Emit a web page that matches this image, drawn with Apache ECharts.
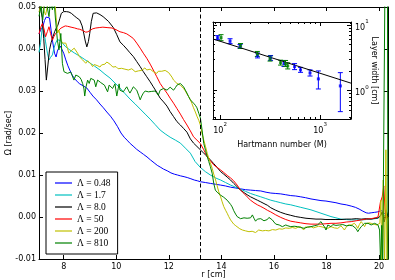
<!DOCTYPE html>
<html><head><meta charset="utf-8">
<script src="https://cdn.jsdelivr.net/npm/echarts@6/dist/echarts.min.js"></script>
<style>html,body{margin:0;padding:0;background:#fff}#c{width:395px;height:280px}</style>
</head><body><div id="c"></div>
<script>
// ---------- data ----------
const xTicks = [8, 10, 12, 14, 16, 18, 20];
const names = ['Λ = 0.48', 'Λ = 1.7', 'Λ = 8.0', 'Λ = 50', 'Λ = 200', 'Λ = 810'];
const colors = ['#0000ff', '#00bfbf', '#000000', '#ff0000', '#bfbf00', '#008000'];
const dashR = 13.2;

const lam048 = [[7.06,0.0436],[7.12,0.0445],[7.2,0.0452],[7.27,0.0468],[7.33,0.0476],[7.4,0.0478],[7.46,0.0474],[7.52,0.0445],[7.58,0.0417],[7.65,0.039],[7.71,0.0381],[7.76,0.0395],[7.81,0.0402],[7.87,0.0407],[7.92,0.0405],[8.0,0.039],[8.08,0.0374],[8.16,0.036],[8.23,0.035],[8.32,0.0338],[8.42,0.0329],[8.52,0.0322],[8.61,0.0317],[8.75,0.0312],[8.88,0.0307],[9.0,0.0297],[9.11,0.0288],[9.25,0.0279],[9.38,0.0269],[9.51,0.026],[9.64,0.025],[9.78,0.024],[9.91,0.0229],[10.05,0.0215],[10.18,0.02],[10.3,0.019],[10.41,0.0183],[10.53,0.0175],[10.64,0.0169],[10.78,0.0161],[10.91,0.0155],[11.04,0.0149],[11.17,0.0143],[11.3,0.0136],[11.44,0.0129],[11.56,0.0123],[11.67,0.0119],[11.8,0.0114],[11.94,0.011],[12.08,0.0105],[12.21,0.0102],[12.33,0.01],[12.44,0.0098],[12.58,0.0096],[12.7,0.0094],[12.84,0.0091],[12.97,0.0088],[13.1,0.0086],[13.2,0.0084],[13.4,0.0082],[13.58,0.008],[13.78,0.0078],[13.97,0.0076],[14.15,0.0074],[14.35,0.0071],[14.55,0.0069],[14.73,0.0067],[14.92,0.0065],[15.11,0.0064],[15.3,0.0063],[15.5,0.0062],[15.7,0.0059],[15.88,0.0057],[16.07,0.0056],[16.26,0.0055],[16.45,0.0053],[16.64,0.0051],[16.83,0.005],[17.02,0.0048],[17.2,0.0046],[17.41,0.0043],[17.6,0.0041],[17.79,0.0039],[17.98,0.0038],[18.17,0.0036],[18.36,0.0034],[18.55,0.0031],[18.75,0.0029],[18.94,0.0026],[19.1,0.0023],[19.24,0.0019],[19.38,0.0014],[19.51,0.001],[19.6,0.0009],[19.7,0.001],[19.82,0.0011],[19.93,0.0012],[20.03,0.0014],[20.12,0.0015],[20.2,0.0007],[20.27,0.0012],[20.33,0.0004]];

const lam17 = [[7.06,0.0392],[7.12,0.0415],[7.19,0.0455],[7.25,0.044],[7.31,0.0417],[7.38,0.039],[7.44,0.0374],[7.5,0.038],[7.57,0.0386],[7.63,0.0402],[7.69,0.0414],[7.76,0.0422],[7.82,0.0425],[7.88,0.042],[7.95,0.0414],[8.08,0.0405],[8.23,0.0398],[8.42,0.039],[8.61,0.0383],[8.8,0.0375],[8.99,0.0367],[9.18,0.0359],[9.38,0.035],[9.57,0.034],[9.76,0.0331],[9.95,0.0319],[10.14,0.0307],[10.33,0.0294],[10.52,0.0281],[10.72,0.0269],[10.91,0.0257],[11.1,0.0245],[11.29,0.0233],[11.48,0.022],[11.67,0.0207],[11.86,0.0198],[12.05,0.019],[12.25,0.0183],[12.44,0.0176],[12.63,0.0164],[12.82,0.0152],[13.0,0.0132],[13.2,0.0118],[13.39,0.0108],[13.58,0.01],[13.78,0.0093],[13.97,0.0088],[14.16,0.0082],[14.35,0.0076],[14.54,0.0071],[14.73,0.0066],[14.92,0.0061],[15.11,0.0056],[15.3,0.0052],[15.5,0.0048],[15.69,0.0044],[15.88,0.004],[16.07,0.0037],[16.26,0.0034],[16.45,0.0031],[16.64,0.0029],[16.83,0.0026],[17.02,0.0023],[17.22,0.002],[17.41,0.0017],[17.6,0.0013],[17.79,0.0009],[17.98,0.0005],[18.17,0.0001],[18.36,-0.0002],[18.55,-0.0005],[18.75,-0.0006],[18.94,-0.0007],[19.13,-0.0007],[19.32,-0.0007],[19.51,-0.0006],[19.7,-0.0005],[19.85,-0.0004],[19.96,-0.0003],[20.05,0.0004],[20.12,0.0012],[20.2,0.0002],[20.27,0.0007],[20.33,0.0003]];

const lam80 = [[7.06,0.0505],[7.12,0.0498],[7.18,0.0475],[7.24,0.0425],[7.29,0.0375],[7.34,0.0326],[7.4,0.0362],[7.46,0.0398],[7.52,0.0415],[7.59,0.0429],[7.66,0.0442],[7.72,0.045],[7.78,0.0457],[7.85,0.0472],[7.91,0.0485],[8.0,0.0489],[8.1,0.0489],[8.2,0.0488],[8.29,0.0485],[8.4,0.0479],[8.5,0.0474],[8.61,0.0469],[8.7,0.0455],[8.76,0.0438],[8.82,0.0419],[8.88,0.0405],[8.94,0.0418],[8.99,0.0437],[9.05,0.0465],[9.12,0.0485],[9.18,0.0488],[9.25,0.0486],[9.38,0.0482],[9.5,0.0477],[9.7,0.0466],[9.89,0.0451],[10.02,0.0434],[10.14,0.0417],[10.27,0.0409],[10.4,0.04],[10.52,0.0391],[10.65,0.0382],[10.78,0.037],[10.91,0.0358],[11.03,0.0346],[11.16,0.0334],[11.29,0.0322],[11.41,0.031],[11.54,0.0297],[11.67,0.0283],[11.8,0.0274],[11.93,0.0264],[12.05,0.0251],[12.18,0.0239],[12.31,0.0227],[12.44,0.0219],[12.56,0.0211],[12.69,0.0202],[12.82,0.0186],[12.94,0.0176],[13.07,0.0168],[13.2,0.016],[13.33,0.0152],[13.46,0.0144],[13.58,0.0136],[13.71,0.0127],[13.84,0.0118],[13.97,0.0108],[14.09,0.0102],[14.22,0.0095],[14.35,0.0088],[14.47,0.008],[14.6,0.0072],[14.73,0.0064],[14.86,0.0058],[14.98,0.0053],[15.11,0.0048],[15.24,0.0044],[15.37,0.004],[15.5,0.0036],[15.62,0.0032],[15.75,0.0028],[15.88,0.0022],[16.07,0.0016],[16.26,0.0011],[16.45,0.0007],[16.64,0.0004],[16.83,0.0001],[17.02,-0.0001],[17.22,-0.0003],[17.41,-0.0004],[17.6,-0.0005],[17.79,-0.0005],[17.98,-0.0006],[18.17,-0.0006],[18.36,-0.0006],[18.55,-0.0006],[18.75,-0.0005],[18.94,-0.0005],[19.13,-0.0004],[19.32,-0.0005],[19.51,-0.0004],[19.7,-0.0005],[19.85,-0.0003],[19.97,-0.0002],[20.06,0.0003],[20.12,0.0012],[20.2,-0.0012],[20.27,0.0017],[20.33,0.0002]];

const lam50 = [[7.06,0.0436],[7.13,0.0452],[7.19,0.0461],[7.25,0.0448],[7.31,0.0429],[7.38,0.0442],[7.44,0.0453],[7.5,0.0437],[7.57,0.0421],[7.63,0.043],[7.69,0.0437],[7.76,0.0441],[7.82,0.0445],[7.9,0.045],[7.97,0.0453],[8.06,0.0455],[8.15,0.0454],[8.28,0.0452],[8.42,0.045],[8.52,0.0448],[8.61,0.0447],[8.72,0.0444],[8.84,0.044],[8.92,0.0441],[8.99,0.0445],[9.1,0.0448],[9.22,0.045],[9.35,0.0451],[9.49,0.0452],[9.65,0.0451],[9.84,0.045],[9.99,0.0446],[10.14,0.0441],[10.27,0.0439],[10.4,0.0436],[10.52,0.0431],[10.65,0.0425],[10.78,0.0414],[10.91,0.0402],[11.03,0.039],[11.16,0.0378],[11.29,0.0364],[11.41,0.035],[11.54,0.0334],[11.67,0.0318],[11.8,0.0306],[11.93,0.0295],[12.05,0.0283],[12.18,0.0271],[12.31,0.0258],[12.44,0.0245],[12.56,0.0232],[12.69,0.0219],[12.82,0.0205],[12.94,0.0191],[13.07,0.0183],[13.2,0.0175],[13.33,0.016],[13.46,0.0144],[13.58,0.0134],[13.71,0.0124],[13.84,0.0118],[13.97,0.0112],[14.09,0.0106],[14.22,0.0099],[14.35,0.0093],[14.47,0.0086],[14.6,0.0076],[14.73,0.0064],[14.86,0.0056],[14.98,0.0048],[15.11,0.004],[15.24,0.0034],[15.37,0.0029],[15.5,0.0025],[15.62,0.0021],[15.75,0.0016],[15.88,0.0012],[16.07,0.0005],[16.26,-0.0001],[16.45,-0.0006],[16.64,-0.001],[16.83,-0.0012],[17.02,-0.0014],[17.22,-0.0016],[17.41,-0.0017],[17.6,-0.0017],[17.79,-0.0017],[17.98,-0.0016],[18.17,-0.0015],[18.36,-0.0015],[18.55,-0.0014],[18.75,-0.0012],[18.94,-0.0011],[19.13,-0.0009],[19.32,-0.0007],[19.51,-0.0005],[19.7,-0.0004],[19.85,-0.0002],[19.96,0.0],[20.05,0.0035],[20.12,0.0048],[20.18,0.0074],[20.23,0.0015],[20.28,-0.0007],[20.33,0.0003]];

const lam200 = [[7.06,0.0488],[7.12,0.0502],[7.2,0.0507],[7.26,0.049],[7.31,0.0481],[7.37,0.0498],[7.43,0.0512],[7.5,0.0505],[7.57,0.0501],[7.62,0.0512],[7.66,0.0517],[7.71,0.0476],[7.77,0.0438],[7.82,0.0445],[7.89,0.0421],[7.96,0.0414],[8.02,0.0418],[8.08,0.0414],[8.14,0.0402],[8.2,0.039],[8.27,0.0395],[8.33,0.0398],[8.4,0.0402],[8.46,0.0405],[8.53,0.039],[8.59,0.0382],[8.66,0.0378],[8.72,0.0374],[8.78,0.037],[8.84,0.0366],[8.91,0.0372],[8.97,0.0374],[9.03,0.0365],[9.1,0.0358],[9.16,0.0363],[9.22,0.0366],[9.3,0.036],[9.38,0.0357],[9.44,0.0362],[9.49,0.036],[9.57,0.0364],[9.64,0.0369],[9.7,0.0366],[9.76,0.0364],[9.82,0.036],[9.87,0.0357],[9.93,0.0359],[9.99,0.0358],[10.07,0.0353],[10.14,0.035],[10.2,0.0354],[10.26,0.0355],[10.33,0.0352],[10.4,0.0354],[10.46,0.035],[10.52,0.0348],[10.59,0.0353],[10.65,0.035],[10.72,0.0346],[10.79,0.0344],[10.85,0.0348],[10.91,0.0346],[10.97,0.0349],[11.02,0.0352],[11.09,0.0355],[11.16,0.035],[11.22,0.0348],[11.29,0.0352],[11.35,0.0349],[11.41,0.0346],[11.48,0.0344],[11.54,0.0342],[11.6,0.0347],[11.67,0.035],[11.73,0.0347],[11.8,0.0346],[11.86,0.0349],[11.93,0.0348],[11.99,0.0344],[12.05,0.034],[12.12,0.0333],[12.18,0.0326],[12.25,0.0322],[12.31,0.0318],[12.37,0.0316],[12.44,0.0314],[12.5,0.031],[12.56,0.0306],[12.63,0.03],[12.69,0.0293],[12.75,0.0287],[12.82,0.0279],[12.88,0.027],[12.94,0.026],[13.01,0.025],[13.07,0.024],[13.14,0.023],[13.2,0.0219],[13.26,0.02],[13.33,0.0183],[13.4,0.0167],[13.46,0.0152],[13.52,0.014],[13.58,0.0129],[13.65,0.0116],[13.71,0.0102],[13.78,0.0088],[13.84,0.0074],[13.9,0.006],[13.97,0.0048],[14.03,0.0036],[14.09,0.0025],[14.16,0.0016],[14.22,0.0009],[14.28,0.0001],[14.35,-0.0007],[14.41,-0.0012],[14.47,-0.0017],[14.55,-0.0021],[14.62,-0.0024],[14.7,-0.0028],[14.8,-0.0031],[14.92,-0.0033],[15.05,-0.0035],[15.17,-0.0034],[15.3,-0.0037],[15.36,-0.0034],[15.42,-0.0031],[15.49,-0.0034],[15.56,-0.0033],[15.68,-0.0032],[15.81,-0.0033],[15.94,-0.003],[16.07,-0.0031],[16.2,-0.0028],[16.32,-0.0029],[16.45,-0.0026],[16.58,-0.0027],[16.7,-0.0025],[16.83,-0.0027],[16.92,-0.0024],[17.02,-0.0023],[17.08,-0.0027],[17.13,-0.0031],[17.19,-0.0024],[17.25,-0.0021],[17.33,-0.0024],[17.41,-0.0023],[17.5,-0.0026],[17.6,-0.0024],[17.7,-0.0022],[17.79,-0.0023],[17.92,-0.0025],[18.05,-0.0027],[18.11,-0.0024],[18.17,-0.0023],[18.3,-0.0026],[18.43,-0.0027],[18.49,-0.0023],[18.55,-0.0021],[18.62,-0.0026],[18.68,-0.0031],[18.75,-0.0024],[18.82,-0.0019],[18.88,-0.0021],[18.94,-0.0019],[19.0,-0.0017],[19.06,-0.0015],[19.13,-0.002],[19.19,-0.0027],[19.25,-0.0018],[19.32,-0.0011],[19.38,-0.0016],[19.45,-0.0023],[19.5,-0.0016],[19.55,-0.0012],[19.62,-0.0014],[19.7,-0.0015],[19.78,-0.0017],[19.85,-0.0017],[19.92,-0.0019],[19.97,-0.0019],[20.03,-0.0015],[20.07,0.004],[20.11,-0.0115],[20.16,0.0088],[20.21,-0.0115],[20.26,0.016],[20.3,-0.0115],[20.34,0.0]];

const lam810 = [[7.06,0.0478],[7.1,0.049],[7.14,0.0505],[7.2,0.0469],[7.25,0.0498],[7.31,0.0521],[7.37,0.0501],[7.44,0.0477],[7.5,0.0517],[7.57,0.0493],[7.63,0.0517],[7.69,0.0469],[7.76,0.0421],[7.82,0.0398],[7.89,0.0437],[7.95,0.0366],[8.01,0.0346],[8.08,0.035],[8.14,0.0342],[8.2,0.0338],[8.27,0.0345],[8.33,0.0342],[8.39,0.0326],[8.46,0.0338],[8.53,0.0336],[8.59,0.0334],[8.66,0.0328],[8.72,0.0318],[8.77,0.0305],[8.8,0.0288],[8.85,0.031],[8.91,0.0326],[8.97,0.0318],[9.03,0.033],[9.1,0.0327],[9.16,0.0326],[9.22,0.031],[9.29,0.0326],[9.35,0.0322],[9.41,0.032],[9.48,0.0318],[9.55,0.0314],[9.61,0.031],[9.67,0.0298],[9.73,0.0314],[9.8,0.031],[9.86,0.0306],[9.95,0.0317],[10.02,0.0288],[10.07,0.0305],[10.11,0.0317],[10.14,0.0302],[10.21,0.0306],[10.27,0.0298],[10.33,0.0304],[10.4,0.031],[10.46,0.0302],[10.52,0.0295],[10.59,0.0303],[10.65,0.031],[10.72,0.0306],[10.78,0.0302],[10.85,0.029],[10.91,0.0279],[10.97,0.0288],[11.03,0.0295],[11.1,0.03],[11.16,0.0302],[11.22,0.0298],[11.29,0.0295],[11.35,0.0299],[11.41,0.0302],[11.48,0.03],[11.54,0.0298],[11.6,0.029],[11.67,0.0302],[11.73,0.0305],[11.8,0.0306],[11.86,0.0303],[11.93,0.0302],[11.99,0.0306],[12.05,0.0309],[12.12,0.0305],[12.18,0.0302],[12.25,0.0308],[12.31,0.0314],[12.37,0.0316],[12.44,0.0318],[12.5,0.0314],[12.56,0.031],[12.63,0.0302],[12.69,0.0295],[12.75,0.0287],[12.82,0.0279],[12.88,0.0275],[12.94,0.0271],[13.01,0.0266],[13.07,0.026],[13.14,0.0247],[13.2,0.0236],[13.27,0.0205],[13.33,0.0175],[13.4,0.0158],[13.46,0.0144],[13.52,0.0132],[13.58,0.012],[13.65,0.0104],[13.71,0.008],[13.77,0.0064],[13.84,0.0059],[13.9,0.0056],[13.97,0.0052],[14.03,0.0049],[14.09,0.0047],[14.16,0.0044],[14.22,0.004],[14.28,0.0036],[14.35,0.003],[14.41,0.0024],[14.47,0.0015],[14.54,0.0007],[14.6,0.0001],[14.67,-0.0003],[14.73,-0.0004],[14.8,-0.0006],[14.86,-0.0002],[14.92,0.0001],[14.98,-0.0003],[15.05,-0.0006],[15.11,-0.0002],[15.18,0.0005],[15.24,-0.0003],[15.3,-0.001],[15.37,-0.0005],[15.43,-0.0001],[15.5,-0.0004],[15.56,-0.0006],[15.62,-0.0009],[15.69,-0.0011],[15.75,-0.0006],[15.81,-0.0001],[15.88,-0.0004],[15.94,-0.0007],[16.0,-0.0012],[16.07,-0.0017],[16.13,-0.0018],[16.2,-0.0019],[16.26,-0.0021],[16.32,-0.0023],[16.39,-0.002],[16.45,-0.0019],[16.53,-0.0021],[16.64,-0.0023],[16.77,-0.0022],[16.9,-0.0023],[17.02,-0.0025],[17.15,-0.0027],[17.28,-0.0024],[17.41,-0.0023],[17.53,-0.0021],[17.66,-0.0019],[17.73,-0.0015],[17.79,-0.0011],[17.86,-0.0018],[17.92,-0.0023],[17.98,-0.0031],[18.05,-0.0019],[18.11,-0.0021],[18.17,-0.0023],[18.24,-0.0018],[18.3,-0.0015],[18.36,-0.002],[18.43,-0.0023],[18.49,-0.0019],[18.55,-0.0015],[18.62,-0.0018],[18.68,-0.0019],[18.75,-0.0021],[18.81,-0.0023],[18.88,-0.002],[18.94,-0.0019],[19.0,-0.0021],[19.06,-0.0023],[19.13,-0.0028],[19.19,-0.0035],[19.25,-0.0029],[19.32,-0.0023],[19.38,-0.0019],[19.45,-0.0015],[19.51,-0.0017],[19.58,-0.0015],[19.64,-0.0017],[19.7,-0.0019],[19.77,-0.0017],[19.83,-0.0015],[19.9,-0.0017],[19.96,-0.0019],[20.02,-0.0031],[20.06,-0.0114],[20.1,-0.002],[20.14,-0.0114],[20.22,0.0524],[20.32,0.0524],[20.34,-0.0114]];

// inset: Hartmann number M, layer width [cm], error bar low/high
const blueM  = [94.4, 125.9, 158.5, 237, 320, 436.5, 556, 638, 794, 962, 1596];
const blueW  = [6.41, 5.67, 4.71, 3.43, 3.15, 2.59, 2.32, 2.07, 1.86, 1.51, 1.18];
const blueLo = [5.97, 5.20, 4.39, 3.15, 2.89, 2.33, 2.09, 1.90, 1.67, 1.06, 0.479];
const blueHi = [6.88, 6.17, 5.05, 3.74, 3.43, 2.88, 2.58, 2.26, 2.07, 1.995, 1.88];
const greenM  = [102.3, 160.3, 236, 316, 403, 452, 475];
const greenW  = [6.41, 4.79, 3.62, 3.07, 2.67, 2.59, 2.38];
const greenLo = [5.77, 4.39, 3.32, 2.82, 2.45, 2.33, 2.14];
const greenHi = [7.12, 5.22, 3.95, 3.35, 2.91, 2.88, 2.65];
const fitM = [85, 2040];
const fitW = [6.12, 1.30];
const insetXRange = [85, 2040];
const insetYRange = [0.37, 11.1];
const insetXMinor = [90, 200, 300, 400, 500, 600, 700, 800, 900, 2000];
const insetYMinor = [0.4, 0.5, 0.6, 0.7, 0.8, 0.9, 2, 3, 4, 5, 6, 7, 8, 9];

// ---------- chart ----------
const F = 'DejaVu Sans';
const chart = echarts.init(document.getElementById('c'), null, {renderer: 'canvas'});
const lineAx = {show: true, onZero: false, lineStyle: {color: '#000', width: 1}};
const noLine = {show: false, onZero: false};
const noSplit = {show: false};
const tickIn = (len, custom) => {
  const t = {show: true, inside: true, length: len, lineStyle: {color: '#000', width: 1}};
  if (custom) t.customValues = custom;
  return t;
};
const powFmt = v => {
  const e = Math.log10(v), r = Math.round(e);
  if (Math.abs(e - r) > 1e-6) return '';
  return '{b|10}{s|' + r + '}';
};
const powRich = {
  b: {fontFamily: F, fontSize: 8, color: '#000', verticalAlign: 'bottom', lineHeight: 13},
  s: {fontFamily: F, fontSize: 5.5, color: '#000', verticalAlign: 'top', lineHeight: 13}
};
const nameStyle = {fontFamily: F, fontSize: 8, color: '#000'};

function errRender(color) {
  return function (params, api) {
    const x = api.value(0);
    const p1 = api.coord([x, api.value(1)]);
    const p2 = api.coord([x, api.value(2)]);
    const cw = 2.5;
    const st = {stroke: color, lineWidth: 1};
    return {type: 'group', children: [
      {type: 'line', shape: {x1: p1[0], y1: p1[1], x2: p2[0], y2: p2[1]}, style: st},
      {type: 'line', shape: {x1: p1[0] - cw, y1: p1[1], x2: p1[0] + cw, y2: p1[1]}, style: st},
      {type: 'line', shape: {x1: p2[0] - cw, y1: p2[1], x2: p2[0] + cw, y2: p2[1]}, style: st}
    ]};
  };
}

const mainData = [lam048, lam17, lam80, lam50, lam200, lam810];
const series = mainData.map((d, i) => ({
  name: names[i], type: 'line', data: d, xAxisIndex: 0, yAxisIndex: 0,
  symbol: 'none', showSymbol: false, clip: true, z: 2,
  lineStyle: {color: colors[i], width: 1}, itemStyle: {color: colors[i]},
  emphasis: {disabled: true}
}));
series[0].markLine = {
  silent: true, symbol: ['none', 'none'], label: {show: false}, animation: false,
  lineStyle: {color: '#000', type: [4, 2.5], width: 1},
  data: [{xAxis: dashR}]
};
series.push({
  type: 'line', xAxisIndex: 2, yAxisIndex: 2, symbol: 'none', z: 5,
  data: fitM.map((m, i) => [m, fitW[i]]),
  lineStyle: {color: '#000', width: 1}, emphasis: {disabled: true}
});
series.push({
  type: 'custom', xAxisIndex: 2, yAxisIndex: 2, z: 4,
  renderItem: errRender('#0000ff'), encode: {x: 0, y: [1, 2]},
  data: blueM.map((m, i) => [m, blueLo[i], blueHi[i]])
});
series.push({
  type: 'custom', xAxisIndex: 2, yAxisIndex: 2, z: 4,
  renderItem: errRender('#008000'), encode: {x: 0, y: [1, 2]},
  data: greenM.map((m, i) => [m, greenLo[i], greenHi[i]])
});
series.push({
  type: 'scatter', xAxisIndex: 2, yAxisIndex: 2, symbol: 'rect', symbolSize: 3, z: 6,
  itemStyle: {color: '#0000ff'}, data: blueM.map((m, i) => [m, blueW[i]]), emphasis: {disabled: true}
});
series.push({
  type: 'scatter', xAxisIndex: 2, yAxisIndex: 2, symbol: 'rect', symbolSize: 3, z: 6,
  itemStyle: {color: '#008000'}, data: greenM.map((m, i) => [m, greenW[i]]), emphasis: {disabled: true}
});

const lx0 = Math.log10(insetXRange[0]), lx1 = Math.log10(insetXRange[1]);
const ly0 = Math.log10(insetYRange[0]), ly1 = Math.log10(insetYRange[1]);

const option = {
  animation: false,
  backgroundColor: '#fff',
  grid: [
    {left: 39, right: 7, top: 7, bottom: 21, containLabel: false, outerBoundsMode: 'none'},
    {left: 213, top: 22, width: 138, height: 97, containLabel: false, outerBoundsMode: 'none',
     show: true, backgroundColor: '#fff', borderWidth: 0}
  ],
  legend: {
    data: names.map(n => ({name: n, icon: 'rect'})), orient: 'vertical', left: 46, top: 172,
    itemWidth: 17, itemHeight: 2, itemGap: 2,
    padding: [6, 7, 6, 9], borderColor: '#000', borderWidth: 1, borderRadius: 0,
    backgroundColor: '#fff', selectedMode: false,
    itemStyle: {opacity: 0.6},
    textStyle: {fontFamily: 'Liberation Serif', fontSize: 9.5, lineHeight: 10, color: '#000'}
  },
  xAxis: [
    {type: 'value', gridIndex: 0, position: 'bottom', min: 7.06, max: 20.34,
     axisLine: lineAx, splitLine: noSplit, axisTick: tickIn(4, xTicks),
     axisLabel: {customValues: xTicks, fontFamily: F, fontSize: 8, color: '#000', margin: 4},
     name: 'r [cm]', nameLocation: 'middle', nameGap: 12, nameMoveOverlap: false,
     nameTextStyle: nameStyle},
    {type: 'value', gridIndex: 0, position: 'top', min: 7.06, max: 20.34,
     axisLine: lineAx, splitLine: noSplit, axisTick: tickIn(4, xTicks),
     axisLabel: {show: false}},
    {type: 'log', gridIndex: 1, position: 'bottom', min: insetXRange[0], max: insetXRange[1],
     axisLine: lineAx, splitLine: noSplit, axisTick: tickIn(4),
     axisLabel: {formatter: powFmt, rich: powRich, margin: 3},
     name: 'Hartmann number (M)', nameLocation: 'middle', nameGap: 22, nameMoveOverlap: false,
     nameTextStyle: nameStyle},
    {type: 'log', gridIndex: 1, position: 'top', min: insetXRange[0], max: insetXRange[1],
     axisLine: lineAx, splitLine: noSplit, axisTick: tickIn(4), axisLabel: {show: false}},
    {type: 'value', gridIndex: 1, position: 'bottom', min: lx0, max: lx1,
     axisLine: noLine, splitLine: noSplit, axisLabel: {show: false},
     axisTick: tickIn(2, insetXMinor.map(v => Math.log10(v)))},
    {type: 'value', gridIndex: 1, position: 'top', min: lx0, max: lx1,
     axisLine: noLine, splitLine: noSplit, axisLabel: {show: false},
     axisTick: tickIn(2, insetXMinor.map(v => Math.log10(v)))}
  ],
  yAxis: [
    {type: 'value', gridIndex: 0, position: 'left', min: -0.01, max: 0.05, interval: 0.01,
     axisLine: lineAx, splitLine: noSplit, axisTick: tickIn(4),
     axisLabel: {formatter: v => v.toFixed(2), fontFamily: F, fontSize: 8, color: '#000', margin: 3},
     name: 'Ω [rad/sec]', nameLocation: 'middle', nameGap: 26, nameMoveOverlap: false,
     nameTextStyle: nameStyle},
    {type: 'value', gridIndex: 0, position: 'right', min: -0.01, max: 0.05, interval: 0.01,
     axisLine: lineAx, splitLine: noSplit, axisTick: tickIn(4), axisLabel: {show: false}},
    {type: 'log', gridIndex: 1, position: 'right', min: insetYRange[0], max: insetYRange[1],
     axisLine: lineAx, splitLine: noSplit, axisTick: tickIn(4),
     axisLabel: {formatter: powFmt, rich: powRich, margin: 4},
     name: 'Layer width [cm]', nameLocation: 'middle', nameGap: 19, nameRotate: -90,
     nameMoveOverlap: false, nameTextStyle: nameStyle},
    {type: 'log', gridIndex: 1, position: 'left', min: insetYRange[0], max: insetYRange[1],
     axisLine: lineAx, splitLine: noSplit, axisTick: tickIn(4), axisLabel: {show: false}},
    {type: 'value', gridIndex: 1, position: 'right', min: ly0, max: ly1,
     axisLine: noLine, splitLine: noSplit, axisLabel: {show: false},
     axisTick: tickIn(2, insetYMinor.map(v => Math.log10(v)))},
    {type: 'value', gridIndex: 1, position: 'left', min: ly0, max: ly1,
     axisLine: noLine, splitLine: noSplit, axisLabel: {show: false},
     axisTick: tickIn(2, insetYMinor.map(v => Math.log10(v)))}
  ],
  series: series
};
chart.setOption(option);
</script>
</body></html>
